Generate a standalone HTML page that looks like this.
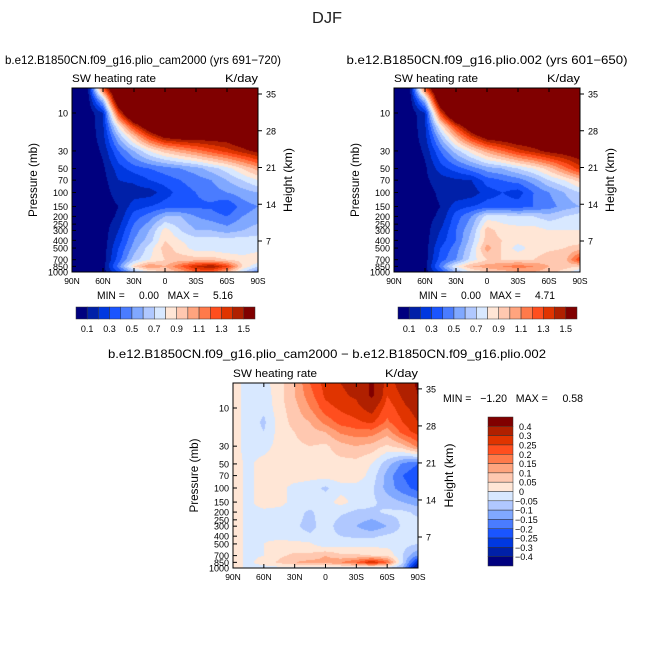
<!DOCTYPE html>
<html><head><meta charset="utf-8">
<style>
html,body{margin:0;padding:0;background:#fff;}
#wrap{position:relative;width:654px;height:654px;overflow:hidden;font-family:"Liberation Sans",sans-serif;}
canvas{position:absolute;}
svg{position:absolute;left:0;top:0;}
svg text{white-space:pre;}
</style></head>
<body>
<div id="wrap">
<canvas id="c1" style="left:72px;top:88px" width="186" height="184"></canvas>
<canvas id="c2" style="left:394px;top:88px" width="186" height="184"></canvas>
<canvas id="c3" style="left:233px;top:383px" width="185" height="185"></canvas>
<svg id="ov" width="654" height="654"></svg>
</div>
<script>
const lats=[90,75,60,45,30,15,0,-15,-30,-45,-60,-75,-90];
const plevs=[5,7,10,15,20,30,50,70,100,150,200,300,400,500,700,850,1000];
const palette=['#00007f','#0020a8','#0038e0','#1a55ff','#4a7cff','#80a8ff','#b0c8ff','#d8e8ff','#ffe6d6','#ffc8b0','#ffa47e','#ff7a4a','#ff4e1e','#e03400','#b02000','#800000'];
const levels1=[0.1,0.2,0.3,0.4,0.5,0.6,0.7,0.8,0.9,1.0,1.1,1.2,1.3,1.4,1.5];
const levels3=[-0.4,-0.3,-0.25,-0.2,-0.15,-0.1,-0.05,0,0.05,0.1,0.15,0.2,0.25,0.3,0.4];
const barLabels1=['0.1','0.3','0.5','0.7','0.9','1.1','1.3','1.5'];
const barLabels3=['0.4','0.3','0.25','0.2','0.15','0.1','0.05','0','-0.05','-0.1','-0.15','-0.2','-0.25','-0.3','-0.4'];
const pTicks=[10,30,50,70,100,150,200,250,300,400,500,700,850,1000];
const zTicks=[7,14,21,28,35];
const latTicks=[90,60,30,0,-30,-60,-90];
const latLabels=['90N','60N','30N','0','30S','60S','90S'];
const field1=[
[0,0.05,1.2,2,2,2,2,2,2,2,2,2,2],
[0,0.03,0.6,1.8,2,2,2,2,2,2,2,2,2],
[0,0.02,0.2,1.3,2,2,2,2,2,2,2,2,2],
[0,0.02,0.18,0.8,1.3,1.7,2,2,2,2,2,2,2],
[0,0.02,0.16,0.6,0.95,1.3,1.55,1.6,1.6,1.6,1.6,1.7,1.8],
[0,0.02,0.12,0.4,0.6,0.8,0.95,1.05,1.15,1.25,1.35,1.45,1.55],
[0,0.02,0.08,0.25,0.35,0.4,0.45,0.5,0.55,0.65,0.75,0.9,1.05],
[0,0.02,0.06,0.2,0.22,0.3,0.35,0.4,0.45,0.5,0.6,0.7,0.8],
[0,0.02,0.05,0.15,0.15,0.15,0.25,0.35,0.4,0.45,0.5,0.55,0.6],
[0,0.02,0.04,0.1,0.25,0.3,0.35,0.35,0.38,0.38,0.3,0.45,0.5],
[0,0.02,0.04,0.12,0.35,0.45,0.6,0.6,0.5,0.45,0.4,0.5,0.55],
[0,0.02,0.04,0.2,0.45,0.6,0.85,0.7,0.6,0.6,0.55,0.6,0.65],
[0,0.02,0.04,0.25,0.5,0.65,0.9,0.8,0.75,0.75,0.75,0.75,0.75],
[0,0.02,0.04,0.3,0.55,0.75,0.95,0.85,0.75,0.75,0.72,0.72,0.75],
[0,0.02,0.04,0.35,0.65,0.8,0.9,0.95,0.95,0.95,0.9,0.85,0.9],
[0,0.02,0.06,0.45,0.9,1.1,1.0,1.2,1.4,1.5,1.3,0.9,0.7],
[0,0.02,0.04,0.3,0.6,0.8,0.9,1.0,1.2,1.2,1.0,0.7,0.5]];
const field2=[
[0,0.05,1.2,2,2,2,2,2,2,2,2,2,2],
[0,0.03,0.6,1.8,2,2,2,2,2,2,2,2,2],
[0,0.02,0.2,1.3,2,2,2,2,2,2,2,2,2],
[0,0.02,0.18,0.8,1.3,1.7,2,2,2,2,2,2,2],
[0,0.02,0.16,0.6,1.0,1.35,1.6,1.65,1.7,1.7,1.7,1.7,1.8],
[0,0.02,0.12,0.4,0.65,0.85,1.05,1.2,1.35,1.45,1.55,1.6,1.65],
[0,0.02,0.08,0.25,0.35,0.45,0.55,0.6,0.7,0.8,0.95,1.15,1.35],
[0,0.02,0.08,0.15,0.18,0.2,0.35,0.4,0.45,0.55,0.7,0.8,0.95],
[0,0.02,0.06,0.12,0.12,0.14,0.25,0.3,0.25,0.4,0.5,0.6,0.7],
[0,0.02,0.06,0.1,0.25,0.3,0.35,0.35,0.35,0.4,0.45,0.55,0.6],
[0,0.02,0.06,0.12,0.35,0.5,0.75,0.75,0.7,0.7,0.65,0.7,0.75],
[0,0.02,0.05,0.2,0.4,0.6,0.95,0.85,0.85,0.85,0.8,0.8,0.8],
[0,0.02,0.05,0.25,0.4,0.65,0.95,0.9,0.85,0.85,0.85,0.85,0.85],
[0,0.02,0.05,0.3,0.45,0.7,1.05,0.88,0.75,0.85,0.88,0.9,0.95],
[0,0.02,0.05,0.35,0.5,0.75,0.9,0.9,0.9,0.9,0.95,0.95,1.3],
[0,0.02,0.05,0.45,0.8,1.0,1.05,1.1,1.15,1.1,1.0,0.95,0.9],
[0,0.02,0.05,0.3,0.6,0.8,0.9,0.95,1.0,1.0,0.95,0.85,0.7]];
const field3=[
[0.02,-0.02,-0.02,0.03,0.1,0.2,0.27,0.3,0.32,0.42,0.27,0.33,0.42],
[0.02,-0.02,-0.03,0.03,0.1,0.18,0.26,0.29,0.31,0.42,0.25,0.31,0.4],
[0.02,-0.02,-0.04,0.03,0.08,0.15,0.23,0.26,0.28,0.33,0.22,0.28,0.33],
[0.02,-0.02,-0.06,0.02,0.07,0.1,0.17,0.22,0.24,0.26,0.19,0.25,0.3],
[0.02,-0.02,-0.05,0.02,0.05,0.08,0.1,0.16,0.18,0.18,0.12,0.22,0.27],
[0.02,-0.02,-0.02,0.02,0.04,0.05,0.04,0.08,0.1,0.08,0.04,0.08,0.17],
[0.02,-0.01,0.02,0.02,0.03,0.03,0.03,0.03,0.03,0.0,-0.08,-0.16,-0.2],
[0.02,-0.01,0.02,0.02,0.03,0.02,0.02,0.03,0.03,-0.02,-0.12,-0.2,-0.24],
[0.02,-0.01,0.02,0.02,-0.02,-0.03,-0.06,-0.02,-0.02,-0.04,-0.12,-0.18,-0.22],
[0.02,-0.01,0.02,0.02,-0.02,-0.02,-0.02,0.02,-0.02,-0.04,-0.07,-0.1,-0.13],
[0.02,-0.01,-0.01,-0.02,-0.03,-0.06,-0.02,-0.04,-0.06,-0.06,-0.04,-0.04,-0.06],
[0.02,-0.01,-0.01,-0.02,-0.04,-0.07,-0.02,-0.08,-0.1,-0.14,-0.1,-0.04,-0.03],
[0.02,-0.01,-0.01,-0.02,-0.03,-0.04,-0.03,-0.05,-0.06,-0.06,-0.04,-0.03,-0.03],
[0.02,-0.01,0.0,0.02,0.02,0.01,-0.04,-0.02,-0.02,-0.02,-0.02,-0.03,-0.05],
[0.02,-0.01,0.0,0.04,0.06,0.06,0.1,0.06,0.06,0.05,0.04,-0.05,-0.15],
[0.02,-0.01,0.02,0.06,0.1,0.12,0.12,0.15,0.2,0.3,0.2,-0.05,-0.3],
[0.02,-0.01,-0.02,-0.02,-0.03,-0.03,-0.03,-0.03,-0.04,-0.04,-0.05,-0.1,-0.4]];

const NS='http://www.w3.org/2000/svg';
const ov=document.getElementById('ov');
function mk(tag,attrs){const e=document.createElementNS(NS,tag);for(const k in attrs)e.setAttribute(k,attrs[k]);ov.appendChild(e);return e;}
function txt(s,x,y,size,anchor,len,rot){const e=mk('text',{x:x,y:y,'font-size':size,'text-anchor':anchor||'start',fill:'#000','font-family':'Liberation Sans, sans-serif'});if(len){e.setAttribute('textLength',len);e.setAttribute('lengthAdjust','spacingAndGlyphs');}if(rot)e.setAttribute('transform','rotate(-90 '+x+' '+y+')');e.textContent=s;return e;}
function hex(c){return [parseInt(c.substr(1,2),16),parseInt(c.substr(3,2),16),parseInt(c.substr(5,2),16)];}
const rgb=palette.map(hex);

function panel(cfg){
  const {x0,y0,w,h,y10,dec,field,levels,canvas}=cfg;
  const xOf=lat=>x0+(90-lat)/180*w;
  const yOf=p=>y10+(Math.log10(p)-1)*dec;
  const ctx=document.getElementById(canvas).getContext('2d');
  const img=ctx.createImageData(ctx.canvas.width,ctx.canvas.height);
  const lp=plevs.map(p=>Math.log10(p));
  for(let j=0;j<ctx.canvas.height;j++){
    let L=1+(y0+j+0.5-y10)/dec;
    L=Math.max(lp[0],Math.min(lp[lp.length-1],L));
    let r=0;while(r<lp.length-2&&L>lp[r+1])r++;
    const fy=(L-lp[r])/(lp[r+1]-lp[r]);
    for(let i=0;i<ctx.canvas.width;i++){
      const lat=90-(i+0.5)/w*180;
      let c=Math.floor((90-lat)/15);c=Math.max(0,Math.min(lats.length-2,c));
      const fx=(lats[c]-lat)/15;
      const v=(field[r][c]*(1-fx)+field[r][c+1]*fx)*(1-fy)+(field[r+1][c]*(1-fx)+field[r+1][c+1]*fx)*fy;
      let k=0;while(k<levels.length&&v>=levels[k])k++;
      const col=rgb[k];const o=(j*ctx.canvas.width+i)*4;
      img.data[o]=col[0];img.data[o+1]=col[1];img.data[o+2]=col[2];img.data[o+3]=255;
    }
  }
  ctx.putImageData(img,0,0);
  const fr=mk('rect',{x:x0,y:y0,width:w,height:h,fill:'none',stroke:'#000','stroke-width':1});
  
  
  pTicks.forEach(p=>{const y=yOf(p);
    const t=mk('line',{x1:x0,y1:y,x2:x0+4,y2:y,stroke:'#000','stroke-width':1});
    
    
    const l=txt(String(p),x0-4,y+3.5,9,'end');
    
    
  });
  zTicks.forEach(z=>{const y=cfg.z7-(z-7)*cfg.zs;
    const t=mk('line',{x1:x0+w,y1:y,x2:x0+w+4,y2:y,stroke:'#000','stroke-width':1});
    
    
    const l=txt(String(z),x0+w+8,y+3.5,9,'start');
    
    
  });
  latTicks.forEach((lat,i)=>{const x=xOf(lat);
    const t=mk('line',{x1:x,y1:y0+h,x2:x,y2:y0+h-4,stroke:'#000','stroke-width':1});
    
    
    const t2=mk('line',{x1:x,y1:y0,x2:x,y2:y0+4,stroke:'#000','stroke-width':1});
    
    
    const l=txt(latLabels[i],x,y0+h+12,8.5,'middle');
    
    
  });
  const a=txt('SW heating rate',x0,y0-6,11,'start',84);
  
  
  const u=txt('K/day',x0+w,y0-6,11,'end',33);
  
  
  const py=txt('Pressure (mb)',cfg.px,y0+h/2,12,'middle',74,true);
  
  
  const hy=txt('Height (km)',cfg.hx,y0+h/2,12,'middle',64,true);
  
  
}

panel({name:'panel1',x0:72,y0:88,w:186,h:184,y10:113,dec:79.5,field:field1,levels:levels1,canvas:'c1',z7:241,zs:5.25,px:37,hx:292});
panel({name:'panel2',x0:394,y0:88,w:186,h:184,y10:113,dec:79.5,field:field2,levels:levels1,canvas:'c2',z7:241,zs:5.25,px:359,hx:614});
panel({name:'diff',x0:233,y0:383,w:185,h:185,y10:408,dec:80,field:field3,levels:levels3,canvas:'c3',z7:537,zs:5.29,px:198,hx:453});

function hbar(x0,y0,name){
  const bw=179/16;
  palette.forEach((c,i)=>{
    const r=mk('rect',{x:x0+i*bw,y:y0,width:bw,height:12,fill:c,stroke:'#333','stroke-width':0.5});
    
    
  });
  barLabels1.forEach((s,i)=>{
    const l=txt(s,x0+bw*(1+i*2),y0+25,9,'middle');
    
    
  });
}
hbar(76,307,'colorbar1');
hbar(398,307,'colorbar2');

const bh=149/16;
palette.slice().reverse().forEach((c,i)=>{
  const r=mk('rect',{x:488,y:417+i*bh,width:25,height:bh,fill:c,stroke:'#333','stroke-width':0.5});
  
  
});
barLabels3.forEach((s,i)=>{
  const l=txt(s.replace('-','\u2212'),s[0]==='-'?515:519,417+bh*(i+1)+3.5,9,'start');
  
  
});

let e;
e=txt('DJF',327,23,16,'middle',30);e.setAttribute('fill','#222');


e=txt('b.e12.B1850CN.f09_g16.plio_cam2000 (yrs 691\u2212720)',143,64,12,'middle',276);


e=txt('b.e12.B1850CN.f09_g16.plio.002 (yrs 601\u2212650)',487,64,12,'middle',281);


e=txt('b.e12.B1850CN.f09_g16.plio_cam2000 \u2212 b.e12.B1850CN.f09_g16.plio.002',327,358,12,'middle',438);


e=txt('MIN =     0.00   MAX =     5.16',165,299,11,'middle',136);


e=txt('MIN =     0.00   MAX =     4.71',487,299,11,'middle',136);


e=txt('MIN =   \u22121.20   MAX =     0.58',513,402,11,'middle',140);


</script>
</body></html>
